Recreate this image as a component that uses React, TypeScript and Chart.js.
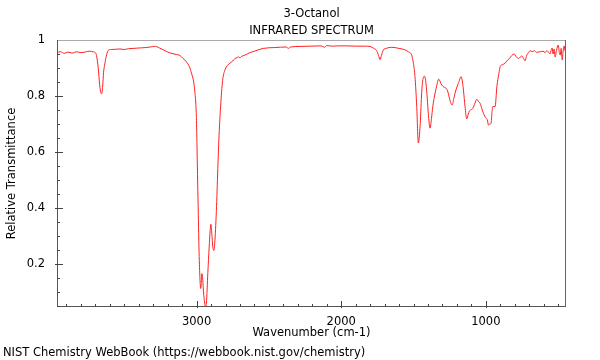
import React, { useEffect, useRef } from "react";
import { Chart, registerables } from "chart.js";

Chart.register(...registerables);

const TITLE = "3-Octanol";
const SUBTITLE = "INFRARED SPECTRUM";
const X_TITLE = "Wavenumber (cm-1)";
const Y_TITLE = "Relative Transmittance";
const FOOTER = "NIST Chemistry WebBook (https://webbook.nist.gov/chemistry)";

const X_TICKS = [3000, 2000, 1000];
const Y_TICKS = [0.2, 0.4, 0.6, 0.8, 1];
const X_MIN = 446;
const X_MAX = 3965;
const Y_MIN = 0.046;
const Y_MAX = 1;

const WAVENUMBERS = [
  3965, 3940, 3915, 3890, 3860, 3830, 3800, 3770, 3740, 3715,
  3700, 3692, 3680, 3670, 3662, 3656, 3650, 3643, 3636, 3625,
  3612, 3590, 3560, 3530, 3500, 3470, 3440, 3410, 3380, 3350,
  3320, 3290, 3275, 3255, 3230, 3200, 3170, 3140, 3116, 3095,
  3070, 3050, 3035, 3020, 3012, 3005, 3000, 2995, 2989, 2982,
  2976, 2972, 2968, 2964, 2960, 2952, 2944, 2938, 2932, 2922,
  2913, 2906, 2901, 2895, 2888, 2880, 2873, 2862, 2852, 2846,
  2834, 2820, 2804, 2785, 2770, 2750, 2735, 2720, 2712, 2700,
  2690, 2666, 2630, 2600, 2539, 2460, 2380, 2366, 2350, 2286,
  2216, 2140, 2115, 2101, 2060, 2020, 1960, 1900, 1840, 1801,
  1775, 1755, 1742, 1732, 1722, 1709, 1690, 1651, 1600, 1560,
  1536, 1513, 1501, 1490, 1478, 1467, 1455, 1445, 1439, 1425,
  1414, 1405, 1398, 1386, 1376, 1367, 1355, 1344, 1326, 1315,
  1305, 1290, 1270, 1260, 1252, 1240, 1232, 1222, 1213, 1200,
  1190, 1171, 1162, 1155, 1144, 1132, 1122, 1114, 1100, 1090,
  1075, 1063, 1050, 1040, 1028, 1017, 998, 990, 982, 972,
  964, 958, 952, 936, 924, 910, 901, 885, 867, 850,
  837, 820, 805, 790, 775, 760, 751, 740, 729, 717,
  705, 694, 680, 665, 650, 625, 605, 590, 578, 565,
  556, 548, 542, 535, 528, 521, 512, 500, 492, 486,
  480, 472, 466, 459, 452, 447,
];

const TRANSMITTANCE = [
  0.955, 0.958, 0.952, 0.957, 0.953, 0.958, 0.955, 0.957, 0.960, 0.958,
  0.955, 0.945, 0.900, 0.840, 0.812, 0.808, 0.830, 0.885, 0.910, 0.940,
  0.962, 0.966, 0.967, 0.968, 0.966, 0.969, 0.970, 0.971, 0.972, 0.973,
  0.975, 0.977, 0.976, 0.971, 0.965, 0.957, 0.952, 0.948, 0.945, 0.935,
  0.922, 0.905, 0.881, 0.850, 0.815, 0.770, 0.700, 0.560, 0.400, 0.226,
  0.140, 0.112, 0.130, 0.165, 0.160, 0.100, 0.060, 0.047, 0.060, 0.170,
  0.260, 0.320, 0.342, 0.310, 0.262, 0.248, 0.285, 0.405, 0.560, 0.643,
  0.762, 0.855, 0.893, 0.910, 0.917, 0.925, 0.934, 0.937, 0.940, 0.936,
  0.941, 0.946, 0.955, 0.960, 0.970, 0.973, 0.975, 0.970, 0.975, 0.977,
  0.978, 0.979, 0.974, 0.980, 0.978, 0.979, 0.979, 0.978, 0.978, 0.977,
  0.970, 0.962, 0.945, 0.930, 0.945, 0.964, 0.970, 0.974, 0.970, 0.965,
  0.958, 0.946, 0.917, 0.869, 0.762, 0.632, 0.690, 0.800, 0.845, 0.871,
  0.845, 0.790, 0.738, 0.685, 0.720, 0.762, 0.800, 0.827, 0.860, 0.850,
  0.839, 0.832, 0.824, 0.810, 0.792, 0.772, 0.768, 0.790, 0.810, 0.832,
  0.845, 0.869, 0.850, 0.821, 0.762, 0.718, 0.735, 0.746, 0.752, 0.756,
  0.775, 0.788, 0.780, 0.774, 0.755, 0.738, 0.720, 0.715, 0.696, 0.700,
  0.702, 0.740, 0.762, 0.762, 0.833, 0.880, 0.905, 0.912, 0.917, 0.928,
  0.934, 0.945, 0.950, 0.940, 0.934, 0.940, 0.943, 0.935, 0.926, 0.946,
  0.955, 0.962, 0.958, 0.962, 0.956, 0.958, 0.960, 0.955, 0.962, 0.955,
  0.950, 0.965, 0.971, 0.950, 0.968, 0.939, 0.962, 0.982, 0.955, 0.946,
  0.970, 0.929, 0.960, 0.979, 0.962, 0.990,
];

const FONT = '"DejaVu Sans", sans-serif';
const TEXT_SIZE = 11.5;

const framePlugin = {
  id: "nistFrame",
  afterDraw(chart: any) {
    const { ctx, chartArea: a, scales } = chart;
    const xs = scales.x;
    const ys = scales.y;
    ctx.save();

    // frame
    ctx.lineWidth = 1;
    ctx.strokeStyle = "#aaaaaa";
    ctx.beginPath();
    ctx.moveTo(a.left, a.top + 0.5);
    ctx.lineTo(a.right, a.top + 0.5);
    ctx.stroke();
    ctx.strokeStyle = "#666666";
    ctx.beginPath();
    ctx.moveTo(a.right - 0.5, a.top);
    ctx.lineTo(a.right - 0.5, a.bottom);
    ctx.stroke();
    ctx.strokeStyle = "#555555";
    ctx.beginPath();
    ctx.moveTo(a.left + 0.5, a.top);
    ctx.lineTo(a.left + 0.5, a.bottom);
    ctx.moveTo(a.left, a.bottom - 0.5);
    ctx.lineTo(a.right, a.bottom - 0.5);
    ctx.stroke();

    // ticks
    ctx.strokeStyle = "#444444";
    ctx.beginPath();
    for (let v = 500; v <= 3900; v += 100) {
      const px = Math.round(xs.getPixelForValue(v)) + 0.5;
      const major = X_TICKS.includes(v);
      ctx.moveTo(px, a.bottom + (major ? 1 : 0));
      ctx.lineTo(px, a.bottom - (major ? 6 : 3));
    }
    for (let i = 1; i <= 19; i++) {
      const v = i * 0.05;
      const py = Math.round(ys.getPixelForValue(v)) + 0.5;
      const major = Y_TICKS.some((t) => Math.abs(t - v) < 1e-6);
      ctx.moveTo(a.left - (major ? 2 : 0), py);
      ctx.lineTo(a.left + (major ? 6 : 3), py);
    }
    ctx.stroke();

    // texts
    ctx.fillStyle = "#000000";
    ctx.font = `${TEXT_SIZE}px ${FONT}`;
    ctx.textBaseline = "alphabetic";
    const cx = (a.left + a.right) / 2;
    ctx.textAlign = "center";
    ctx.fillText(TITLE, cx, 17);
    ctx.fillText(SUBTITLE, cx, 34);
    ctx.fillText(X_TITLE, cx, 336);
    ctx.textAlign = "left";
    ctx.fillText(FOOTER, 3, 356);
    ctx.save();
    ctx.translate(14.5, (a.top + a.bottom) / 2);
    ctx.rotate(-Math.PI / 2);
    ctx.textAlign = "center";
    ctx.fillText(Y_TITLE, 0, 0);
    ctx.restore();

    ctx.restore();
  },
};

export default function App() {
  const ref = useRef<HTMLCanvasElement | null>(null);

  useEffect(() => {
    const canvas = ref.current;
    if (!canvas) return;
    const points = WAVENUMBERS.map((w, i) => ({ x: w, y: TRANSMITTANCE[i] }));
    const chart = new Chart(canvas, {
      type: "line",
      data: {
        datasets: [
          {
            data: points,
            borderColor: "#ff2020",
            borderWidth: 1,
            pointRadius: 0,
            fill: false,
            cubicInterpolationMode: "monotone",
          },
        ],
      },
      options: {
        animation: false,
        responsive: false,
        maintainAspectRatio: false,
        layout: { padding: { left: 0, top: 40, right: 34, bottom: 0 } },
        plugins: {
          legend: { display: false },
          title: { display: false },
          tooltip: { enabled: false },
        },
        scales: {
          x: {
            type: "linear",
            reverse: true,
            min: X_MIN,
            max: X_MAX,
            grid: { display: false },
            border: { display: false },
            afterBuildTicks: (s: any) => {
              s.ticks = X_TICKS.map((v) => ({ value: v }));
            },
            afterFit: (s: any) => {
              s.height = 53;
            },
            ticks: {
              color: "#000000",
              font: { family: FONT, size: 11.5 },
              padding: 0,
              maxRotation: 0,
              autoSkip: false,
              callback: (v: any) => String(v),
            },
          },
          y: {
            type: "linear",
            min: Y_MIN,
            max: Y_MAX,
            grid: { display: false },
            border: { display: false },
            afterBuildTicks: (s: any) => {
              s.ticks = Y_TICKS.map((v) => ({ value: v }));
            },
            afterFit: (s: any) => {
              s.width = 57;
            },
            ticks: {
              color: "#000000",
              font: { family: FONT, size: 11.5 },
              padding: 4,
              autoSkip: false,
              callback: (v: any) => String(Math.round(v * 10) / 10),
            },
          },
        },
      },
      plugins: [framePlugin],
    });
    return () => chart.destroy();
  }, []);

  return (
    <div style={{ position: "absolute", left: 0, top: 0, width: 600, height: 360, background: "#ffffff" }}>
      <canvas ref={ref} width={600} height={360} style={{ display: "block" }} />
    </div>
  );
}
